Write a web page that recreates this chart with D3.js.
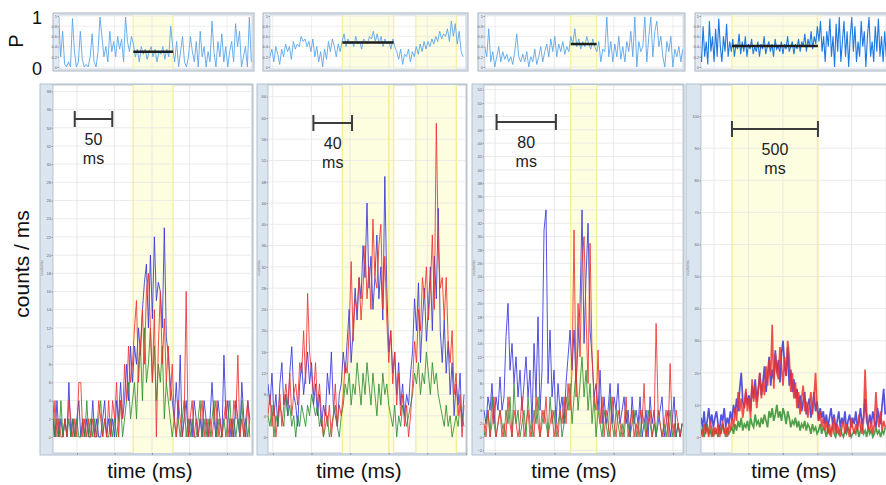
<!DOCTYPE html>
<html>
<head>
<meta charset="utf-8">
<script src="https://cdn.jsdelivr.net/npm/d3@7"></script>
<style>
	body { margin: 0; background: #fff; }
	svg { display: block; font-family: 'Liberation Sans', Arial, sans-serif; }
</style>
</head>
<body>
<div id="chart"></div>
<script>
const width = 886;
const height = 485;

// COUNT TRACES (counts / ms) ===========================================
const blue1 = [2,0,4,0,2,0,2,0,6,0, 2,0,2,4,0,2,0,2,0,0, 4,0,2,0,0,2,4,0,2,0, 2,0,4,2,6,2,4,8,4,10,
	6,10,8,12,9,14,17,19,12,20, 13,22,15,17,16,12,23,11,9,6, 4,2,6,2,9,0,2,4,0,2, 0,4,2,0,2,0,4,2,0,2,
	6,2,0,4,2,0,9,2,4,0, 2,0,4,2,0,6,2,0,4,2];
const red1 = [0,4,0,2,0,0,2,0,4,2, 0,2,0,6,6,0,2,0,2,0, 2,0,0,4,2,0,2,0,4,0, 4,2,6,0,4,2,8,4,10,6,
	8,12,15,6,10,14,8,16,18,12, 6,14,0,10,16,8,13,6,10,4, 8,2,0,4,2,0,2,16,0,2, 4,0,2,0,2,4,0,2,0,2,
	0,2,4,0,2,0,2,4,0,2, 0,4,2,9,0,2,0,2,4,0];
const green1 = [4,0,2,0,4,0,2,0,2,0, 2,0,2,0,0,2,0,4,0,2, 0,2,0,2,4,0,2,0,0,2, 0,2,0,2,4,0,2,4,6,2,
	4,6,2,8,10,4,12,6,8,12, 6,10,4,8,6,10,2,6,4,2, 0,2,0,2,0,2,4,0,2,0, 2,0,0,2,4,0,2,0,2,0,
	2,4,0,2,0,0,2,0,2,4, 0,2,0,2,0,4,0,2,0,2];

const blue2 = [10,6,12,4,8,2,10,14,6,8, 4,12,17,8,6,2,10,14,8,12, 16,10,14,6,10,4,8,2,6,4, 12,8,16,6,4,2,8,10,16,12,
	18,24,14,20,28,22,30,26,36,30, 44,28,34,24,30,38,26,32,22,49, 28,16,20,12,16,8,14,6,10,4, 8,6,12,16,26,20,29,14,22,28,
	18,24,32,20,34,26,43,20,14,22, 12,18,8,14,4,10,6,12,2,8];
const red2 = [4,8,2,6,0,4,8,2,6,10, 6,12,4,8,10,6,14,12,20,10, 27,16,12,8,14,6,10,4,0,6, 2,6,0,4,10,2,6,4,8,14,
	12,20,33,18,26,24,30,22,28,36, 26,32,24,41,30,28,36,40,24,34, 22,14,20,10,16,6,12,4,8,2, 6,0,4,10,18,14,24,20,30,26,
	32,22,28,38,24,59,36,28,30,22, 30,18,14,20,8,12,4,8,0,6];
const green2 = [4,2,6,0,4,2,6,4,2,8, 4,6,2,4,0,4,2,6,4,2, 6,4,8,6,4,6,2,4,0,2, 4,0,2,4,6,2,0,4,6,10,
	8,12,6,10,8,14,10,6,12,8, 14,10,6,12,8,4,10,6,12,8, 10,6,4,2,6,0,4,2,6,4, 2,4,6,8,12,10,14,8,12,10,
	16,12,8,14,10,12,8,6,4,2, 6,2,4,0,2,4,2,6,4,2];

const blue3 = [4,2,6,4,8,2,6,4,9,4, 6,15,20,10,14,8,12,6,10,4, 8,12,6,10,2,14,6,18,4,10, 31,34,8,16,6,10,2,8,4,6,
	2,8,12,16,10,16,8,14,20,34, 14,24,32,16,12,6,8,4,10,2, 6,2,4,8,2,6,4,8,2,4, 6,2,4,0,6,2,4,2,6,0,
	2,4,0,6,2,4,0,2,4,6, 0,2,4,0,2,6,0,2,0,2];
const red3 = [2,0,4,0,2,6,0,2,4,0, 2,0,6,2,0,4,2,0,2,6, 0,2,4,0,2,0,6,2,0,4, 2,6,0,2,4,0,2,0,4,2,
	6,2,8,4,10,31,6,20,12,26, 30,18,8,29,12,6,4,13,2,6, 0,4,2,0,6,2,0,4,2,0, 2,6,0,2,4,0,2,0,4,2,
	8,0,2,4,0,2,17,4,2,0, 2,4,0,11,2,0,4,2,0,2];
const green3 = [0,2,4,0,6,2,0,2,4,2, 0,4,2,6,0,8,2,4,0,2, 4,0,6,2,0,4,2,6,0,2, 4,2,0,6,2,4,0,2,4,0,
	2,6,4,8,2,6,10,4,8,12, 6,10,4,8,2,6,0,4,2,0, 4,2,0,6,2,0,4,2,0,2, 0,4,2,0,2,4,0,2,0,4,
	2,0,4,2,0,2,0,4,2,0, 2,0,2,4,0,2,0,2,0,2];

const blue4 = [6,3,8,2,5,9,4,7,3,6, 8,4,2,7,5,9,3,6,4,8, 5,10,7,12,8,15,20,11,9,14, 10,13,8,16,12,18,11,15,20,13,
	17,22,14,19,25,16,21,18,27,20, 24,17,26,30,22,19,28,16,21,14, 18,12,15,9,13,8,11,14,7,10, 12,6,9,14,8,11,5,9,6,8,
	4,7,3,6,9,4,7,2,5,8, 3,6,4,8,2,5,7,3,6,4, 8,3,5,9,4,6,12,5,3,7, 4,8,5,3,9,6,4,10,15,7];
const red4 = [2,0,4,1,3,0,5,2,0,3, 1,4,0,2,5,1,3,0,4,2, 6,3,9,5,14,8,12,6,10,15, 8,12,6,18,11,16,9,14,20,12,
	17,13,22,16,24,19,35,15,26,20, 18,28,22,16,25,19,30,25,14,20, 12,17,9,14,7,12,16,8,11,6, 10,14,7,12,20,9,5,8,3,6,
	2,5,1,4,0,3,6,1,4,2, 0,3,5,1,4,2,0,6,3,1, 4,2,7,3,1,5,21,8,3,2, 5,1,4,14,6,3,8,2,5,3];
const green4 = [1,3,0,2,4,1,2,0,3,1, 2,0,3,1,4,2,0,3,1,2, 3,1,4,2,5,3,6,2,4,3, 5,2,6,4,3,7,4,5,3,6,
	4,7,5,3,8,6,9,5,7,10, 6,8,5,9,7,4,8,6,3,5, 4,6,3,5,2,4,3,5,2,4, 3,1,4,2,3,1,2,4,1,3,
	2,0,3,1,2,4,1,0,2,1, 3,1,0,2,1,3,2,0,1,2, 1,3,0,2,4,1,2,0,3,1, 2,0,1,3,1,2,0,2,1,3];

const countStart = [-32, -5, -15, -76]; // ms of the first sample in each panel
const countStep = [2.65, 2.05, 2.7, 9]; // ms between samples

// P TRACES =============================================================
const p1 = [0.1,0.98,0.2,0.7,0.05,0,0.1,0,0.95,0.3, 0,0.1,0.7,0.15,0,0.05,0,0.2,0.65,0.1,
	0,0.3,0.98,0.6,0.2,0.4,0.1,0.7,0.3,0.5, 0.2,0.6,0.35,0.55,0.1,0.98,0.5,0.3,0.6,0.45,
	0.2,0.35,0.1,0.4,0.25,0.35,0.15,0.3,0.4,0.2, 0.35,0.1,0.3,0.25,0.4,0.15,0.35,0.2,0.8,0.4,
	0.1,0.5,0,0.3,0.6,0.1,0,0.2,0.6,0.3, 0.1,0.5,0,0.7,0.2,0.4,0,0.3,0.1,0.9,
	0.3,0,0.5,0.2,0.65,0.1,0.4,0,0.3,0.5, 0.1,0.85,0.4,0.7,0,0.2,0.4,0,0.98,0.1];
const p2 = [0.2,0.35,0.1,0.4,0.25,0.05,0.35,0.2,0.45,0.3, 0.4,0.15,0.5,0.35,0.45,0.4,0.6,0.5,0.55,0.4,
	0.5,0.3,0.55,0.2,0.4,0.1,0.3,0,0.35,0.15, 0.5,0.3,0.55,0.4,0.2,0.45,0.3,0.5,0.65,0.4,
	0.55,0.45,0.5,0.4,0.6,0.45,0.5,0.35,0.55,0.5, 0.45,0.6,0.55,0.7,0.5,0.65,0.45,0.6,0.4,0.55,
	0.45,0.5,0.35,0.55,0.4,0.3,0.15,0.35,0.05,0.25, 0.2,0.35,0.1,0.3,0.2,0.4,0.25,0.45,0.3,0.5,
	0.35,0.5,0.4,0.55,0.45,0.6,0.5,0.7,0.55,0.65, 0.6,0.75,0.5,0.9,0.6,0.85,0.45,0.7,0.3,0.2];
const p3 = [0.4,0.2,0.75,0.1,0.3,0,0.2,0.4,0.1,0.3, 0.15,0.25,0.1,0.2,0.05,0.3,0.65,0.2,0.1,0.25,
	0.1,0.3,0,0.2,0.1,0.35,0.05,0.2,0.4,0.1, 0.3,0.45,0.2,0.55,0.3,0.6,0.2,0.45,0.3,0.5,
	0.25,0.4,0.3,0.6,0.45,0.75,0.4,0.55,0.35,0.5, 0.4,0.6,0.45,0.35,0.55,0.4,0.3,0.5,0.1,0.35,
	0.3,0.98,0.2,0.5,0.1,0.45,0.2,0.6,0.15,0.4, 0.1,0.5,0.3,0.7,0.2,0.98,0,0.5,0.3,0.4,
	0.98,0.1,0.6,0.98,0.2,0.7,0.9,0.4,0.6,0.2, 0,0.5,0.3,0.6,0,0.35,0.2,0.4,0.1,0.35];
const p4 = [0.3,0.1,0.8,0.2,0.5,0.05,0.9,0.3,0.6,0.1, 0.75,0.2,0.95,0.4,0.1,0.6,0.3,0.85,0.2,0.5,
	0.3,0.55,0.2,0.45,0.35,0.65,0.25,0.5,0.3,0.6, 0.2,0.45,0.35,0.55,0.25,0.4,0.3,0.5,0.2,0.45,
	0.35,0.6,0.25,0.4,0.5,0.3,0.45,0.2,0.55,0.35, 0.4,0.3,0.5,0.25,0.45,0.35,0.6,0.3,0.4,0.5,
	0.25,0.45,0.35,0.55,0.3,0.5,0.4,0.65,0.3,0.55, 0.4,0.7,0.35,0.6,0.45,0.8,0.5,0.9,0.3,0.6,
	0.1,0.7,0.4,0.95,0.2,0.6,0,0.85,0.3,0.98, 0.1,0.5,0.9,0.2,0.7,0,0.6,0.98,0.3,0.8,
	0.1,0.5,0.2,0.9,0.4,0.7,0,0.6,0.98,0.2, 0.5,0.1,0.8,0.3,0.95,0.2,0.6,0.1,0.7,0.2];

const pStart = [-27, -3, -14, -82];
const pStep = [2.62, 2.02, 2.7, 9.1];
const pMeans = [0.3, 0.48, 0.45, 0.41];

// Highlighted windows (ms), scale bars (start ms, length ms), ticks
const bands = [[[75, 128]], [[72, 125], [148, 190]], [[102, 137]], [[104, 604]]];
const extraBandLines = [[], [120], [], []];
const scaleBars = [[-3, 50], [42, 40], [2, 80], [104, 500]];
const scaleLabels = ['50', '40', '80', '500'];
const xGrid = [[0, 50, 100, 150, 200], [0, 40, 80, 120, 160, 200], [0, 80, 160, 240], [0, 200, 400, 600, 800, 1000]];
const yTicks = [
	[0, 2, 4, 6, 8, 10, 12, 14, 16, 18, 20, 22, 24, 26, 28, 30, 32, 34, 36, 38],
	[0, 4, 8, 12, 16, 20, 24, 28, 32, 36, 40, 44, 48, 52, 56, 60, 64],
	[-2, 0, 2, 4, 6, 8, 10, 12, 14, 16, 18, 20, 22, 24, 26, 28, 30, 32, 34, 36, 38, 40, 42, 44, 46, 48, 50, 52],
	[0, 10, 20, 30, 40, 50, 60, 70, 80, 90, 100],
];
const pTicks = [0, 0.2, 0.4, 0.6, 0.8, 1];

const countSeries = [
	[blue1, green1, red1],
	[blue2, green2, red2],
	[blue3, green3, red3],
	[blue4, green4, red4],
];
const pSeries = [p1, p2, p3, p4];
const traceColours = ['#3535d8', '#2e8e2e', '#ee3030'];

// LAYOUT ===============================================================
const panels = [
	{ frameX: 40, left: 53, right: 252, topFrameX: 53, topLeft: 59, topRight: 252, xDomain: [-32, 233.3], yDomain: [-1.76, 38.7], barY: 119, labelX: 150 },
	{ frameX: 257, left: 268, right: 466, topFrameX: 263, topLeft: 270, topRight: 466, xDomain: [-5, 200], yDomain: [-3, 66.2], barY: 123, labelX: 359 },
	{ frameX: 472, left: 484, right: 683, topFrameX: 478, topLeft: 485, topRight: 683, xDomain: [-15, 253.5], yDomain: [-2.4, 52.7], barY: 122, labelX: 574 },
	{ frameX: 686, left: 701, right: 905, topFrameX: 695, topLeft: 701, topRight: 905, xDomain: [-76, 1110], yDomain: [-5, 109.7], barY: 129, labelX: 794 },
];
const plotTop = 85;
const plotBottom = 453;
const pTop = 15;
const pBottom = 69;

const svg = d3.select('#chart').append('svg').attr('width', width).attr('height', height);

panels.forEach(function (pn, k) {
	const x = d3.scaleLinear().domain(pn.xDomain).range([pn.left, pn.right]);
	const y = d3.scaleLinear().domain(pn.yDomain).range([plotBottom, plotTop]);
	const yP = d3.scaleLinear().domain([-0.04, 1.02]).range([pBottom, pTop]);

	// P PANEL ==========================================================
	const top = svg.append('g');
	top.append('rect')
		.attr('x', pn.topFrameX)
		.attr('y', pTop - 2)
		.attr('width', pn.topRight - pn.topFrameX + 2)
		.attr('height', pBottom - pTop + 4)
		.attr('fill', '#e3eaf3')
		.attr('stroke', '#aab4c2');
	top.append('rect')
		.attr('x', pn.topLeft)
		.attr('y', pTop)
		.attr('width', pn.topRight - pn.topLeft)
		.attr('height', pBottom - pTop)
		.attr('fill', '#fff')
		.attr('stroke', '#b5bfcc')
		.attr('stroke-width', 0.6);

	top.append('clipPath')
		.attr('id', 'clipP' + k)
		.append('rect')
		.attr('x', pn.topLeft)
		.attr('y', pTop)
		.attr('width', pn.topRight - pn.topLeft)
		.attr('height', pBottom - pTop);
	const topInner = top.append('g').attr('clip-path', 'url(#clipP' + k + ')');

	bands[k].forEach((b) => {
		topInner.append('rect')
			.attr('x', x(b[0]))
			.attr('y', pTop)
			.attr('width', x(b[1]) - x(b[0]))
			.attr('height', pBottom - pTop)
			.attr('fill', '#fdfde2');
	});
	topInner.selectAll('.pgx')
		.data(xGrid[k])
		.join('line')
		.attr('x1', (d) => x(d))
		.attr('x2', (d) => x(d))
		.attr('y1', pTop)
		.attr('y2', pBottom)
		.attr('stroke', '#e2e2e2')
		.attr('stroke-width', 0.6);
	topInner.selectAll('.pgy')
		.data(pTicks)
		.join('line')
		.attr('x1', pn.topLeft)
		.attr('x2', pn.topRight)
		.attr('y1', (d) => yP(d))
		.attr('y2', (d) => yP(d))
		.attr('stroke', '#e2e2e2')
		.attr('stroke-width', 0.6);
	bands[k].forEach((b) => {
		topInner.selectAll(null)
			.data(b)
			.join('line')
			.attr('x1', (d) => x(d))
			.attr('x2', (d) => x(d))
			.attr('y1', pTop)
			.attr('y2', pBottom)
			.attr('stroke', '#f4f0a0')
			.attr('stroke-width', 1.2);
	});

	const pLine = d3
		.line()
		.x((d, i) => x(pStart[k] + i * pStep[k]))
		.y((d) => yP(d));
	topInner.append('path')
		.datum(pSeries[k])
		.attr('d', pLine)
		.attr('fill', 'none')
		.attr('stroke', k === 3 ? '#1f7ae0' : '#5aa6ea')
		.attr('stroke-width', k === 3 ? 1.1 : 0.9);

	// mean P over the highlighted window
	topInner.append('line')
		.attr('x1', x(bands[k][0][0]))
		.attr('x2', x(bands[k][0][1]))
		.attr('y1', yP(pMeans[k]))
		.attr('y2', yP(pMeans[k]))
		.attr('stroke', '#1e1e1e')
		.attr('stroke-width', 2.5);

	top.append('g')
		.attr('transform', `translate(${pn.topLeft},0)`)
		.call(d3.axisLeft(yP).tickValues(pTicks).tickSize(1.5).tickFormat((d) => d))
		.call((g) => g.select('.domain').remove())
		.call((g) => g.selectAll('text').attr('font-size', 4).attr('fill', '#666').attr('x', -2))
		.call((g) => g.selectAll('line').attr('stroke', '#999'));

	// COUNTS PANEL =====================================================
	const bottom = svg.append('g');
	bottom.append('rect')
		.attr('x', pn.frameX)
		.attr('y', plotTop - 1)
		.attr('width', pn.right - pn.frameX + 1)
		.attr('height', plotBottom - plotTop + 3)
		.attr('fill', '#dbe5f0')
		.attr('stroke', '#b3bfce');
	bottom.append('rect')
		.attr('x', pn.left)
		.attr('y', plotTop)
		.attr('width', pn.right - pn.left)
		.attr('height', plotBottom - plotTop)
		.attr('fill', '#fff')
		.attr('stroke', '#aeb8c6')
		.attr('stroke-width', 0.8);

	bottom.append('clipPath')
		.attr('id', 'clipC' + k)
		.append('rect')
		.attr('x', pn.left)
		.attr('y', plotTop)
		.attr('width', pn.right - pn.left)
		.attr('height', plotBottom - plotTop);
	const inner = bottom.append('g').attr('clip-path', 'url(#clipC' + k + ')');

	bands[k].forEach((b) => {
		inner.append('rect')
			.attr('x', x(b[0]))
			.attr('y', plotTop)
			.attr('width', x(b[1]) - x(b[0]))
			.attr('height', plotBottom - plotTop)
			.attr('fill', '#fdfde0');
	});
	inner.selectAll('.gx')
		.data(xGrid[k])
		.join('line')
		.attr('x1', (d) => x(d))
		.attr('x2', (d) => x(d))
		.attr('y1', plotTop)
		.attr('y2', plotBottom)
		.attr('stroke', '#e3e3e3')
		.attr('stroke-width', 0.8);
	inner.selectAll('.gy')
		.data(yTicks[k])
		.join('line')
		.attr('x1', pn.left)
		.attr('x2', pn.right)
		.attr('y1', (d) => y(d))
		.attr('y2', (d) => y(d))
		.attr('stroke', '#e6e6e6')
		.attr('stroke-width', 0.8);
	bands[k].forEach((b) => {
		inner.selectAll(null)
			.data(b.concat(extraBandLines[k]))
			.join('line')
			.attr('x1', (d) => x(d))
			.attr('x2', (d) => x(d))
			.attr('y1', plotTop)
			.attr('y2', plotBottom)
			.attr('stroke', '#f3ef96')
			.attr('stroke-width', 1.3);
	});

	const countLine = d3
		.line()
		.x((d, i) => x(countStart[k] + i * countStep[k]))
		.y((d) => y(d));
	countSeries[k].forEach((series, j) => {
		inner.append('path')
			.datum(series)
			.attr('d', countLine)
			.attr('fill', 'none')
			.attr('stroke', traceColours[j])
			.attr('stroke-width', k === 3 ? 1.7 : 1)
			.attr('stroke-opacity', 0.85);
	});

	// y axis in the blue strip
	bottom.append('g')
		.attr('transform', `translate(${pn.left},0)`)
		.call(d3.axisLeft(y).tickValues(yTicks[k]).tickSize(1.5))
		.call((g) => g.select('.domain').remove())
		.call((g) => g.selectAll('text').attr('font-size', 4).attr('fill', '#666').attr('x', -2))
		.call((g) => g.selectAll('line').attr('stroke', '#999'));
	bottom.append('text')
		.attr('transform', `translate(${pn.frameX + 3},268) rotate(-90)`)
		.attr('text-anchor', 'middle')
		.attr('font-size', 3.5)
		.attr('fill', '#777')
		.text('counts/ms');

	// tick marks under the plot
	bottom.append('g')
		.attr('transform', `translate(0,${plotBottom})`)
		.call(d3.axisBottom(x).tickValues(xGrid[k]).tickSize(2).tickFormat(''))
		.call((g) => g.select('.domain').remove())
		.call((g) => g.selectAll('line').attr('stroke', '#999'));

	// scale bar
	const bar = scaleBars[k];
	const bx0 = x(bar[0]);
	const bx1 = x(bar[0] + bar[1]);
	bottom.append('path')
		.attr('d', `M${bx0},${pn.barY - 8}V${pn.barY + 8}M${bx0},${pn.barY}H${bx1}M${bx1},${pn.barY - 8}V${pn.barY + 8}`)
		.attr('fill', 'none')
		.attr('stroke', '#3c3c3c')
		.attr('stroke-width', 2);
	bottom.append('text')
		.attr('x', (bx0 + bx1) / 2)
		.attr('y', pn.barY + 26)
		.attr('text-anchor', 'middle')
		.attr('font-size', 16)
		.attr('fill', '#222')
		.text(scaleLabels[k]);
	bottom.append('text')
		.attr('x', (bx0 + bx1) / 2)
		.attr('y', pn.barY + 45)
		.attr('text-anchor', 'middle')
		.attr('font-size', 16)
		.attr('fill', '#222')
		.text('ms');

	svg.append('text')
		.attr('x', pn.labelX)
		.attr('y', 478)
		.attr('text-anchor', 'middle')
		.attr('font-size', 20.5)
		.attr('fill', '#111')
		.text('time (ms)');
});

// LEFT LABELS ==========================================================
svg.append('text')
	.attr('transform', 'translate(23,41) rotate(-90)')
	.attr('text-anchor', 'middle')
	.attr('font-size', 20)
	.attr('fill', '#111')
	.text('P');
svg.append('text').attr('x', 37).attr('y', 24).attr('text-anchor', 'middle').attr('font-size', 18).attr('fill', '#111').text('1');
svg.append('text').attr('x', 37).attr('y', 75).attr('text-anchor', 'middle').attr('font-size', 18).attr('fill', '#111').text('0');
svg.append('text')
	.attr('transform', 'translate(29,264) rotate(-90)')
	.attr('text-anchor', 'middle')
	.attr('font-size', 21)
	.attr('fill', '#111')
	.text('counts / ms');
</script>
</body>
</html>
